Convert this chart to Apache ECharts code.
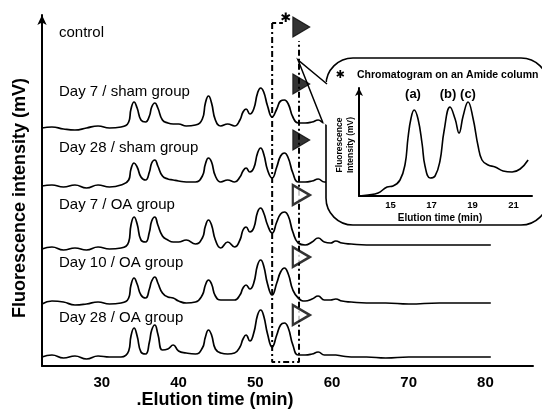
<!DOCTYPE html>
<html><head><meta charset="utf-8">
<script src="https://cdn.jsdelivr.net/npm/echarts@6/dist/echarts.min.js"></script>
<style>html,body{margin:0;padding:0;background:#fff}#c{width:542px;height:409px}</style>
</head><body><div id="c"></div>
<script>
// ---- main chromatograms (elution time, min) ----
const times = [22.2,23.5,25,26.5,28,29.5,31,32.5,33.5,33.8,
  34.2,34.6,35.1,35.7,36.2,36.5,36.9,37.3,37.9,38.6,
  39.3,40.0,41.0,42.2,43.1,43.5,43.9,44.3,44.8,45.5,
  46.4,47.3,48.0,48.4,48.8,49.3,49.8,50.3,50.7,51.1,
  51.6,52.2,52.8,53.3,53.8,54.3,54.9,55.6,56.5,57.4,
  58.2,59.0,59.8,60.5,61.3,62.5,64.5,67,70,74,
  77,80.7];
const traceLabels = ['control','Day 7 / sham group','Day 28 / sham group','Day 7 / OA group','Day 10 / OA group','Day 28 / OA group'];
const traceBase = [238,180,118,62,9];   // stacking offsets (mV, arbitrary)
const sham7 = [0,1,-1,-2,0,2,0,1,6,19,
  26,20,8,6,12,21,25,20,8,5,
  4,4,2,3,9,25,32,25,8,2,
  4,2,8,16,19,14,19,35,40,36,
  22,11,19,27,28,24,11,5,5,6,
  8,5,5,6,4,3,2,2,2,2,
  2,2];
const sham28 = [0,1,-1,1,-2,1,-1,1,6,17,
  23,19,9,6,14,23,26,20,10,7,
  6,5,4,4,10,22,28,24,10,4,
  6,4,9,15,18,14,18,33,38,32,
  16,8,19,30,33,28,13,4,4,5,
  7,4,4,5,3,2,2,1,1,1,
  1,1];
const oa7 = [-1,1,-2,0,-2,1,-1,0,6,23,
  31,24,8,6,16,27,31,23,12,8,
  6,6,8,4,10,22,28,23,8,0,
  6,1,8,18,21,16,20,36,40,35,
  23,15,26,34,36,32,16,5,3,6,
  10,6,5,7,5,4,3,3,3,3,
  3,3];
const oa10 = [0,3,2,-1,0,2,0,1,6,19,
  26,20,9,6,15,23,27,21,11,7,
  6,3,1,2,9,19,24,20,8,4,
  4,4,9,16,19,15,21,39,44,38,
  20,9,21,32,36,30,14,6,3,5,
  8,4,4,5,3,2,1,1,0,1,
  1,1];
const oa28 = [0,2,-1,1,-2,1,0,0,6,21,
  29,21,5,3,15,27,32,23,7,8,
  12,6,4,3,9,20,27,22,8,4,
  3,4,10,18,22,16,24,42,47,41,
  23,10,22,32,34,29,12,2,2,3,
  5,2,2,2,1,0,0,-1,0,0,
  0,0];
const xTicks = [30,40,50,60,70,80];

// arrows (one per group, incl. control)
const arrowTime = 56.0;
const arrowLevels = [339,282,226,171,109,51];
const arrowFilled = [true,true,true,false,false,false];

// dashed region (elution window)
const regionStart = 52.2, regionEnd = 55.7;
const regionBottom = 4, regionTopLeft = 343, regionTopRight = 325, regionTopEnd = 53.6;

// ---- inset: Amide column ----
const insetTimes = [13.46,13.9,14.39,14.83,15.12,15.46,15.71,15.85,16.0,16.15,
  16.34,16.54,16.68,16.93,17.17,17.41,17.61,17.9,18.15,18.34,
  18.54,18.78,19.02,19.27,19.46,19.76,20.1,20.49,20.93,21.32,21.71];
const insetValues = [0,1,3,9,10,16,32,58,78,86,
  77,52,30,18,20,35,65,89,77,63,
  80,94,78,50,36,31,29,25,24,27,36];
const insetTicks = [15,17,19,21];
const insetPeakLabels = ['(a)','(b)','(c)'];

const traces = [sham7, sham28, oa7, oa10, oa28];
const series = traces.map((vals, i) => ({
  type: 'line', xAxisIndex: 0, yAxisIndex: 0, smooth: 0.5, symbol: 'none', z: 3,
  lineStyle: {color: '#000', width: 1.7},
  data: times.map((t, k) => [t, traceBase[i] + vals[k]])
}));
series.push({
  type: 'line', xAxisIndex: 0, yAxisIndex: 0, symbol: 'none', z: 5,
  lineStyle: {color: '#000', width: 2, type: [6,3,2,3]},
  data: [[regionStart, regionTopLeft],[regionStart, regionBottom],[regionEnd, regionBottom],[regionEnd, regionTopRight]]
});
series.push({
  type: 'line', xAxisIndex: 0, yAxisIndex: 0, symbol: 'none', z: 5,
  lineStyle: {color: '#000', width: 2, type: [4,3]},
  data: [[regionStart, regionTopLeft],[regionTopEnd, regionTopLeft]]
});
series.push({
  type: 'scatter', xAxisIndex: 0, yAxisIndex: 0, z: 30,
  symbol: 'triangle', symbolRotate: -90, symbolSize: [20,17],
  data: arrowLevels.map((v, i) => ({
    value: [arrowTime, v],
    itemStyle: arrowFilled[i] ? {color: '#000', borderColor: '#000', borderWidth: 1}
                              : {color: '#fff', borderColor: '#000', borderWidth: 2.4}
  }))
});
series.push({
  type: 'line', xAxisIndex: 1, yAxisIndex: 1, smooth: 0.45, symbol: 'none', z: 25,
  lineStyle: {color: '#000', width: 1.6},
  data: insetTimes.map((t, k) => [t, insetValues[k]])
});

const chart = echarts.init(document.getElementById('c'), null, {renderer: 'canvas'});
const F = '"Liberation Sans", Arial, sans-serif';
const T = (x, y, text, font, align, rot) => {
  const o = {type: 'text', x: x, y: y, z: 40,
    style: {text: text, fill: '#000', font: font, textAlign: align || 'left', textVerticalAlign: 'middle'}};
  if (rot) o.rotation = rot;
  return o;
};
const labelY = [33, 92, 148, 205, 263, 318];

const graphics = [];
graphics.push({type: 'rect', z: 20, shape: {x: 326, y: 58, width: 222, height: 167, r: 27},
  style: {fill: '#fff', stroke: '#000', lineWidth: 1.6}});
graphics.push({type: 'polygon', z: 21, shape: {points: [[298,60],[326,82],[329,82],[329,126],[323,123]]},
  style: {fill: '#fff', stroke: null}});
graphics.push({type: 'polyline', z: 22, shape: {points: [[327,84],[298,60],[323,123]]},
  style: {fill: null, stroke: '#000', lineWidth: 1.5}});
traceLabels.forEach((s, i) => graphics.push(T(59, labelY[i], s, '15px ' + F)));
graphics.push(T(286, 19, '\u2731', 'bold 13px "DejaVu Sans", sans-serif', 'center'));
graphics.push(T(340, 75, '\u2731', 'bold 11px "DejaVu Sans", sans-serif', 'center'));
graphics.push(T(357, 75, 'Chromatogram on an Amide column', 'bold 10.5px ' + F));
const peakX = [413, 448, 468];
insetPeakLabels.forEach((s, i) => graphics.push(T(peakX[i], 94, s, 'bold 13px ' + F, 'center')));
graphics.push(T(440, 218, 'Elution time (min)', 'bold 10px ' + F, 'center'));
graphics.push(T(340, 145, 'Fluorescence', 'bold 8.5px ' + F, 'center', Math.PI / 2));
graphics.push(T(351, 145, 'Intensity (mV)', 'bold 8.5px ' + F, 'center', Math.PI / 2));
graphics.push(T(20, 198, 'Fluorescence intensity (mV)', 'bold 18px ' + F, 'center', Math.PI / 2));
graphics.push(T(215, 400, '.Elution time (min)', 'bold 18px ' + F, 'center'));

chart.setOption({
  animation: false,
  backgroundColor: '#fff',
  grid: [
    {left: 42, right: 9, top: 15, bottom: 43},
    {left: 359, top: 88, width: 173, height: 108}
  ],
  xAxis: [
    {type: 'value', gridIndex: 0, min: 22.2, max: 86.2, splitLine: {show: false},
     axisLine: {lineStyle: {color: '#000', width: 2}}, axisTick: {show: false},
     axisLabel: {customValues: xTicks, color: '#000', fontWeight: 'bold', fontSize: 15, fontFamily: F, margin: 9}},
    {type: 'value', gridIndex: 1, min: 13.46, max: 21.9, splitLine: {show: false}, z: 25,
     axisLine: {lineStyle: {color: '#000', width: 2}}, axisTick: {show: false},
     axisLabel: {customValues: insetTicks, color: '#000', fontWeight: 'bold', fontSize: 9.5, fontFamily: F, margin: 4}}
  ],
  yAxis: [
    {type: 'value', gridIndex: 0, min: 0, max: 351, splitLine: {show: false},
     axisLine: {show: true, symbol: ['none','arrow'], symbolSize: [7,10], lineStyle: {color: '#000', width: 2}},
     axisTick: {show: false}, axisLabel: {show: false}},
    {type: 'value', gridIndex: 1, min: 0, max: 108, splitLine: {show: false}, z: 25,
     axisLine: {show: true, symbol: ['none','arrow'], symbolSize: [6,8], lineStyle: {color: '#000', width: 2}},
     axisTick: {show: false}, axisLabel: {show: false}}
  ],
  series: series,
  graphic: {elements: graphics}
});
</script>
</body></html>
